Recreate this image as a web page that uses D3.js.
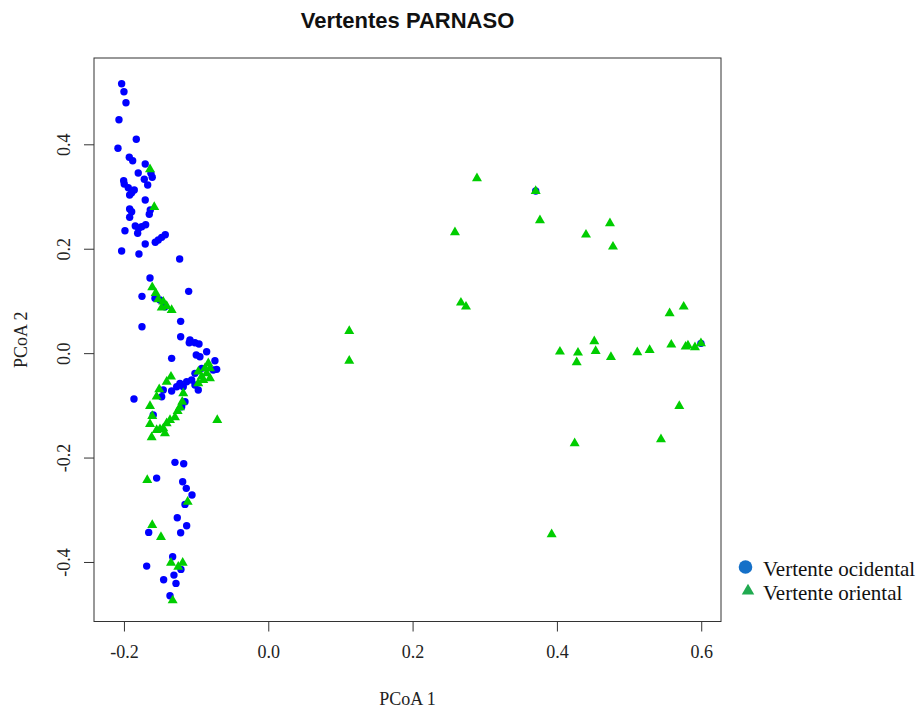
<!DOCTYPE html>
<html>
<head>
<meta charset="utf-8">
<script src="https://cdn.jsdelivr.net/npm/d3@7"></script>
<style>
  html, body { margin: 0; padding: 0; background: #fff; }
  svg { display: block; }
</style>
</head>
<body>
<script>
// PCoA scores, western slope (ocidental): [PCoA 1, PCoA 2]
const ocidental = [
  [-0.2032, 0.5159], [-0.2000, 0.5006], [-0.1972, 0.4795], [-0.2069, 0.4469],
  [-0.1829, 0.4096], [-0.2083, 0.3923], [-0.1926, 0.3751], [-0.1879, 0.3686],
  [-0.1705, 0.3623], [-0.1802, 0.3450], [-0.1608, 0.3368], [-0.1626, 0.3444],
  [-0.1718, 0.3330], [-0.1671, 0.3220], [-0.2004, 0.3303], [-0.1996, 0.3239],
  [-0.1940, 0.3169], [-0.1857, 0.3125], [-0.1893, 0.3073], [-0.1921, 0.3029],
  [-0.1705, 0.2933], [-0.1921, 0.2761], [-0.1893, 0.2709], [-0.1921, 0.2602],
  [-0.1635, 0.2741], [-0.1649, 0.2659], [-0.1843, 0.2435], [-0.1796, 0.2391],
  [-0.1699, 0.2460], [-0.1754, 0.2421], [-0.1810, 0.2295], [-0.1986, 0.2345],
  [-0.1427, 0.2268], [-0.1477, 0.2218], [-0.1524, 0.2167], [-0.1566, 0.2123],
  [-0.1705, 0.2090], [-0.2032, 0.1956], [-0.1792, 0.1898], [-0.1228, 0.1803],
  [-0.1639, 0.1439], [-0.1103, 0.1184], [-0.1750, 0.1088], [-0.1570, 0.1050],
  [-0.1501, 0.1017], [-0.1432, 0.0889], [-0.1214, 0.0609], [-0.1750, 0.0506],
  [-0.1214, 0.0314], [-0.1085, 0.0251], [-0.1016, 0.0199], [-0.0960, 0.0174],
  [-0.1095, 0.0199], [-0.0854, 0.0027], [-0.0998, -0.0036], [-0.0947, -0.0069],
  [-0.1339, -0.0100], [-0.0739, -0.0146], [-0.0715, -0.0310], [-0.0923, -0.0291],
  [-0.0762, -0.0324], [-0.1016, -0.0387], [-0.1062, -0.0515], [-0.0970, -0.0707],
  [-0.1016, -0.0611], [-0.1224, -0.0579], [-0.1131, -0.0548], [-0.1178, -0.0644],
  [-0.1269, -0.0644], [-0.1339, -0.0726], [-0.1455, -0.0707], [-0.1477, -0.0835],
  [-0.1154, -0.0931], [-0.1200, -0.1027], [-0.1594, -0.1186], [-0.1861, -0.0879],
  [-0.1293, -0.2092], [-0.1172, -0.2119], [-0.1547, -0.2393], [-0.1186, -0.2464],
  [-0.1136, -0.2590], [-0.1057, -0.2718], [-0.1154, -0.2897], [-0.1261, -0.3153],
  [-0.1131, -0.3307], [-0.1214, -0.3441], [-0.1657, -0.3433], [-0.1325, -0.3900],
  [-0.1685, -0.4079], [-0.1210, -0.4142], [-0.1307, -0.4251], [-0.1450, -0.4341],
  [-0.1279, -0.4410], [-0.1362, -0.4648], [0.3706, 0.3105], [0.5996, 0.0188]
];

// PCoA scores, eastern slope (oriental): [PCoA 1, PCoA 2]
const oriental = [
  [-0.1639, 0.3521], [-0.1580, 0.2799], [-0.1608, 0.1261], [-0.1560, 0.1151],
  [-0.1524, 0.1031], [-0.1455, 0.0985], [-0.1408, 0.0902], [-0.1339, 0.0826],
  [-0.1477, 0.0870], [-0.0831, -0.0195], [-0.0877, -0.0291], [-0.0808, -0.0291],
  [-0.0970, -0.0356], [-0.0854, -0.0387], [-0.0923, -0.0452], [-0.0808, -0.0483],
  [-0.0970, -0.0579], [-0.0901, -0.0515], [-0.1348, -0.0452], [-0.1408, -0.0548],
  [-0.1511, -0.0693], [-0.1547, -0.0835], [-0.1178, -0.0770], [-0.1192, -0.0931],
  [-0.1224, -0.1038], [-0.1256, -0.1109], [-0.1293, -0.1230], [-0.1362, -0.1282],
  [-0.1408, -0.1345], [-0.1455, -0.1441], [-0.1432, -0.1536], [-0.1501, -0.1460],
  [-0.1547, -0.1473], [-0.1616, -0.1613], [-0.1639, -0.1358], [-0.1608, -0.1205],
  [-0.1639, -0.1013], [-0.0707, -0.1282], [-0.1677, -0.2431], [-0.1117, -0.2847],
  [-0.1608, -0.3293], [-0.1487, -0.3523], [-0.1348, -0.4015], [-0.1186, -0.4015],
  [-0.1247, -0.4092], [-0.1325, -0.4736],
  [0.2892, 0.3349], [0.3706, 0.3105], [0.3765, 0.2544], [0.2587, 0.2314],
  [0.4735, 0.2487], [0.4403, 0.2268], [0.4777, 0.2038], [0.2670, 0.0966],
  [0.2740, 0.0889], [0.1122, 0.0423], [0.1122, -0.0146], [0.5562, 0.0762],
  [0.5757, 0.0889], [0.4518, 0.0226], [0.4042, 0.0027], [0.4292, 0.0008],
  [0.4537, 0.0040], [0.4274, -0.0176], [0.4749, -0.0075], [0.5114, 0.0015],
  [0.5285, 0.0059], [0.5585, 0.0161], [0.5784, 0.0123], [0.5913, 0.0111],
  [0.5996, 0.0188], [0.5816, 0.0146], [0.5696, -0.1013], [0.5442, -0.1651],
  [0.4246, -0.1728], [0.3927, -0.3471]
];

const xTicks = [-0.2, 0.0, 0.2, 0.4, 0.6];
const yTicks = [-0.4, -0.2, 0.0, 0.2, 0.4];
const legendLabels = ["Vertente ocidental", "Vertente oriental"];

const W = 922, H = 710;
const plot = { left: 94, right: 721, top: 58, bottom: 621.5 };
const serif = "'Liberation Serif', 'Times New Roman', serif";
const sans = "'Liberation Sans', Arial, sans-serif";
const axisColor = "#333";

const svg = d3.select("body").append("svg")
  .attr("width", W).attr("height", H)
  .attr("viewBox", `0 0 ${W} ${H}`);

const x = d3.scaleLinear().domain([-0.2415, 0.6274]).range([plot.left, plot.right]);
const y = d3.scaleLinear().domain([-0.514, 0.5653]).range([plot.bottom, plot.top]);

// plot frame
svg.append("rect")
  .attr("x", plot.left).attr("y", plot.top)
  .attr("width", plot.right - plot.left).attr("height", plot.bottom - plot.top)
  .attr("fill", "none").attr("stroke", axisColor).attr("stroke-width", 1);

const fmt = d3.format(".1f");

// x axis
const gx = svg.append("g")
  .attr("transform", `translate(0,${plot.bottom})`)
  .call(d3.axisBottom(x).tickValues(xTicks).tickFormat(d => fmt(d).replace("\u2212", "-"))
    .tickSize(10).tickPadding(21));
gx.select(".domain").remove();
gx.selectAll(".tick line").attr("stroke", axisColor);
gx.selectAll(".tick text")
  .attr("font-family", serif).attr("font-size", 18).attr("fill", "#222")
  .attr("dy", "0.32em");

// y axis, labels turned to read upward
const gy = svg.append("g")
  .attr("transform", `translate(${plot.left},0)`)
  .call(d3.axisLeft(y).tickValues(yTicks).tickFormat(d => fmt(d).replace("\u2212", "-"))
    .tickSize(10));
gy.select(".domain").remove();
gy.selectAll(".tick line").attr("stroke", axisColor);
gy.selectAll(".tick text")
  .attr("font-family", serif).attr("font-size", 18).attr("fill", "#222")
  .attr("x", null).attr("dy", null)
  .attr("text-anchor", "middle")
  .attr("transform", "translate(-24,0) rotate(-90)");

// title and axis titles
svg.append("text")
  .attr("x", (plot.left + plot.right) / 2).attr("y", 28)
  .attr("text-anchor", "middle")
  .attr("font-family", sans).attr("font-weight", "bold").attr("font-size", 22)
  .attr("fill", "#111")
  .text("Vertentes PARNASO");

svg.append("text")
  .attr("x", (plot.left + plot.right) / 2).attr("y", 705)
  .attr("text-anchor", "middle")
  .attr("font-family", serif).attr("font-size", 18).attr("fill", "#222")
  .text("PCoA 1");

svg.append("text")
  .attr("transform", `translate(27,${(plot.top + plot.bottom) / 2}) rotate(-90)`)
  .attr("text-anchor", "middle")
  .attr("font-family", serif).attr("font-size", 18).attr("fill", "#222")
  .text("PCoA 2");

// filled triangle centred on its centroid
function triangle(s) {
  const h = s * 0.5751, hx = s * 0.5, hb = s * 0.2876;
  return `M0,${-h}L${hx},${hb}L${-hx},${hb}Z`;
}

const pts = svg.append("g");
pts.selectAll("circle.oc")
  .data(ocidental).join("circle")
  .attr("class", "oc")
  .attr("cx", d => x(d[0])).attr("cy", d => y(d[1]))
  .attr("r", 3.7)
  .attr("fill", "#0000FF");

pts.selectAll("path.or")
  .data(oriental).join("path")
  .attr("class", "or")
  .attr("transform", d => `translate(${x(d[0])},${y(d[1])})`)
  .attr("d", triangle(10))
  .attr("fill", "#00CD00");

// legend
const lg = svg.append("g").attr("font-family", serif).attr("font-size", 21).attr("fill", "#111");
lg.append("circle").attr("cx", 745.5).attr("cy", 567).attr("r", 6.8).attr("fill", "#1570C8");
lg.append("path").attr("transform", "translate(748,591)").attr("d", triangle(12.5)).attr("fill", "#20AA50");
lg.selectAll("text.lab")
  .data(legendLabels).join("text")
  .attr("class", "lab")
  .attr("x", 763)
  .attr("y", (d, i) => 576 + i * 24)
  .text(d => d);
</script>
</body>
</html>
